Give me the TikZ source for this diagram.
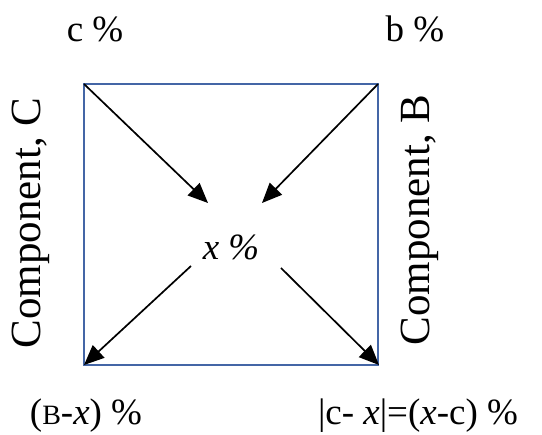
\documentclass[tikz,border=0pt]{standalone}
\usepackage{fontspec}
\setmainfont{Liberation Serif}
\usetikzlibrary{arrows.meta, positioning}
\definecolor{boxedge}{HTML}{4466A6}

\begin{document}
\begin{tikzpicture}[
  x=1pt, y=-1pt,
  font=\fontsize{37}{42}\selectfont,
  lbl/.style={inner sep=0pt, anchor=base},
  side/.style={inner sep=0pt, rotate=90, font=\fontsize{43}{48}\selectfont},
  arr/.style={-{Triangle[length=20pt, width=17pt]}, black, line width=1.7pt}
]
  \useasboundingbox (0,0) rectangle (542,435);

  % square and its corners
  \draw[boxedge, line width=2.3pt] (84,84) rectangle (378,365);
  \coordinate (tl) at (84,84);
  \coordinate (tr) at (378,84);
  \coordinate (bl) at (84,365);
  \coordinate (br) at (379,365);

  % ends of the arrows near the centre
  \coordinate (tlin) at (208,203);
  \coordinate (trin) at (262,203);
  \coordinate (blin) at (191,266);
  \coordinate (brin) at (281,268);

  \node[lbl] (mid) at (231,260) {\itshape x \%};

  \node[lbl] (c) at (95,42) {c \%};
  \node[lbl] (b) at (415,42) {b \%};
  \node[side] (compc) at (31,223) {Component, C};
  \node[side] (compb) at (420,220) {Component, B};
  \node[lbl] (bx) at (86,425) {({\fontsize{28}{30}\selectfont B}-\textit{x}) \%};
  \node[lbl] (cx) at (418,425) {|c- \textit{x}|=(\textit{x}-c) \%};

  \draw[arr] (tl) -- (tlin);
  \draw[arr] (tr) -- (trin);
  \draw[arr] (blin) -- (bl);
  \draw[arr] (brin) -- (br);
\end{tikzpicture}
\end{document}
